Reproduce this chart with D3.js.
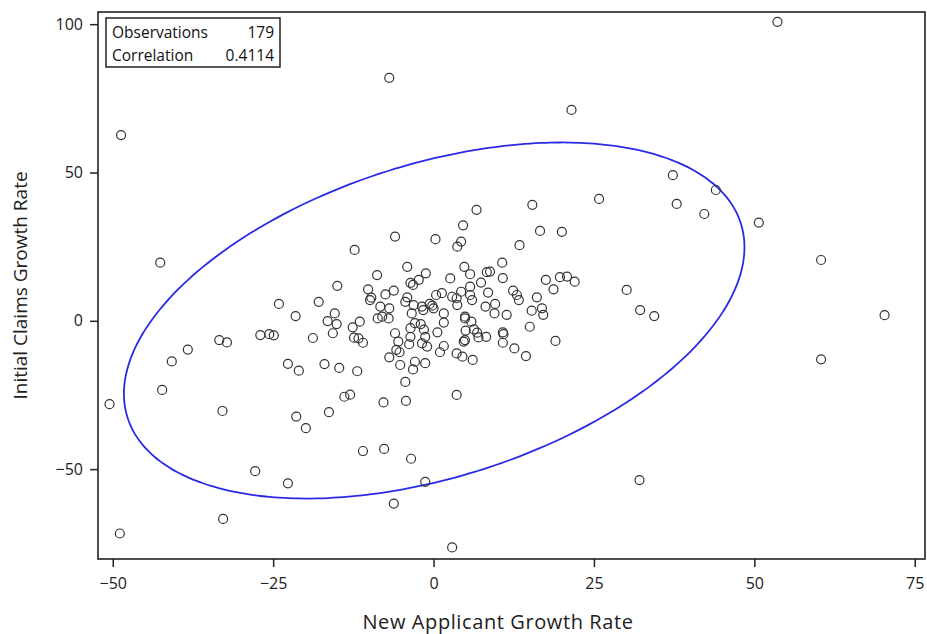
<!DOCTYPE html>
<html><head><meta charset="utf-8">
<script src="https://cdn.jsdelivr.net/npm/d3@7"></script>
<style>body{margin:0;background:#fff}svg{display:block}</style>
</head><body>
<script>
const xVals = [53.6,-6.9,-48.7,21.5,37.3,44.0,37.9,42.2,25.8,50.7,30.1,32.2,34.4,60.4,70.3,60.4,32.1,-50.5,-32.9,-21.4,-19.9,-27.8,-22.7,-32.8,-48.9,-42.6,-33.4,-32.2,-38.3,-40.8,-42.3,-11.0,-7.7,-3.5,-1.3,-6.2,2.9,
 -24.1,-17.9,-21.5,-15.4,-16.5,-15.1,-15.7,-12.6,-11.5,-12.4,-11.7,-11.0,-27.0,-25.6,-24.9,-18.8,-22.7,-21.0,-17.0,-14.7,-11.9,-13.9,-13.0,-16.3,-7.8,-4.3,-4.4,-6.9,-5.2,-3.2,-2.9,-1.3,-5.8,-5.3,-6.0,-3.8,-3.6,-1.8,-1.3,-1.0,-3.6,-2.9,-2.0,-3.4,-3.1,-1.8,-4.4,-8.3,-6.9,-8.7,-8.0,-7.0,-9.9,
 -6.0,-12.3,-8.8,-4.1,-1.2,-15.0,-10.2,-9.7,-7.5,-6.2,-3.6,-3.2,-2.3,-4.1,-1.6,-0.6,
 6.7,15.4,4.6,16.6,20.0,0.3,4.3,3.7,13.4,4.8,5.7,10.7,8.3,8.8,2.6,10.8,7.4,5.7,17.5,19.7,20.8,22.0,18.7,0.4,1.3,2.9,3.6,4.3,5.7,6.0,12.4,13.0,13.3,16.1,-0.2,1.6,3.7,4.9,8.1,9.6,9.5,11.4,15.3,16.9,17.1,
 1.6,4.9,5.9,6.3,6.8,7.0,8.2,5.0,4.7,4.9,10.8,10.9,10.8,12.6,14.4,15.0,19.0,0.6,1.6,1.0,3.6,4.5,6.1,3.6,0.0,-1.5,8.5,-5.5];
const yVals = [100.8,81.9,62.6,71.1,49.1,44.1,39.4,36.0,41.1,33.1,10.4,3.6,1.6,20.5,1.9,-13.0,-53.7,-28.1,-30.4,-32.3,-36.2,-50.7,-54.8,-66.8,-71.7,19.6,-6.5,-7.3,-9.7,-13.7,-23.3,-43.9,-43.2,-46.5,-54.3,-61.6,-76.4,
 5.7,6.4,1.6,2.5,-0.1,-1.1,-4.2,-2.2,-0.3,-5.7,-5.9,-7.4,-4.8,-4.5,-4.9,-5.8,-14.5,-16.8,-14.6,-15.9,-17.0,-25.6,-24.9,-30.8,-27.5,-27.0,-20.6,-12.3,-14.9,-16.4,-13.8,-14.3,-9.8,-10.6,-4.2,-7.9,-5.4,-7.6,-5.4,-8.7,-2.5,-0.8,-1.1,2.5,5.3,4.8,6.4,4.8,4.2,0.8,1.4,0.8,7.0,
 28.4,23.9,15.4,18.2,16.0,11.8,10.6,7.8,8.9,10.2,12.8,12.1,13.8,7.9,3.6,5.7,
 37.4,39.1,32.2,30.3,30.0,27.5,26.7,25.0,25.5,18.2,15.7,19.6,16.4,16.6,14.3,14.4,12.9,11.5,13.8,14.7,14.9,13.2,10.6,8.7,9.3,8.1,7.6,9.8,8.7,7.0,10.2,8.7,7.0,7.9,5.1,2.5,5.3,1.4,4.8,5.7,2.5,2.0,3.4,4.2,2.0,
 -0.6,0.8,-0.3,-2.9,-4.0,-5.6,-5.4,-3.3,-7.0,-6.5,-3.9,-4.5,-7.4,-9.3,-11.9,-2.0,-6.8,-3.9,-8.5,-10.6,-11.0,-12.1,-13.2,-25.0,4.2,-3.0,9.5,-7.0];
const xTicks = [-50,-25,0,25,50,75];
const yTicks = [-50,0,50,100];
const xTitle = "New Applicant Growth Rate";
const yTitle = "Initial Claims Growth Rate";
const statLabels = ["Observations","Correlation"];
const statValues = ["179","0.4114"];
// prediction ellipse parameters (mean, sd, correlation, scale)
const ellMean = [0.1, 0.1];
const ellSd = [19.5, 24.2];
const ellCorr = 0.4114;
const ellScale = 2.48;

const W=927,H=634;
const m={l:98,r:2,t:12,b:75};
const svg=d3.select("body").append("svg").attr("width",W).attr("height",H);
const x=d3.scaleLinear().domain([-52.3,76.6]).range([m.l,W-m.r]);
const y=d3.scaleLinear().domain([-80.3,104.1]).range([H-m.b,m.t]);
const font="'Open Sans', 'Noto Sans', sans-serif";

const xa=svg.append("g").attr("transform",`translate(0,${H-m.b})`)
 .call(d3.axisBottom(x).tickValues(xTicks).tickSize(8).tickPadding(11).tickFormat(d3.format("d")));
const ya=svg.append("g").attr("transform",`translate(${m.l},0)`)
 .call(d3.axisLeft(y).tickValues(yTicks).tickSize(8).tickPadding(7).tickFormat(d3.format("d")));
[xa,ya].forEach(a=>{a.select(".domain").remove();
 a.selectAll("line").attr("stroke","#222").attr("stroke-width",1.5);
 a.selectAll("text").attr("fill","#222").style("font-family",font).style("font-size","16px");});

// ellipse
const ts=d3.range(0,361,2).map(d=>d*Math.PI/180);
const pts=ts.map(t=>{const u=Math.cos(t),v=Math.sin(t);
 return [ellMean[0]+ellScale*ellSd[0]*u, ellMean[1]+ellScale*ellSd[1]*(ellCorr*u+Math.sqrt(1-ellCorr*ellCorr)*v)];});
svg.append("path").attr("d",d3.line().x(d=>x(d[0])).y(d=>y(d[1])).curve(d3.curveCardinalClosed)(pts))
 .attr("fill","none").attr("stroke","#2a2ae6").attr("stroke-width",1.8);

svg.append("g").selectAll("circle").data(xVals.map((v,i)=>[v,yVals[i]])).join("circle")
 .attr("cx",d=>x(d[0])).attr("cy",d=>y(d[1])).attr("r",4.5)
 .attr("fill","none").attr("stroke","#333").attr("stroke-width",1.2);

// frame
svg.append("rect").attr("x",m.l).attr("y",m.t).attr("width",W-m.r-m.l).attr("height",H-m.b-m.t)
 .attr("fill","none").attr("stroke","#222").attr("stroke-width",1.6);

// stats box
const bx=106,by=18,bw=174,bh=49;
svg.append("rect").attr("x",bx).attr("y",by).attr("width",bw).attr("height",bh).attr("fill","#fff").attr("stroke","#222").attr("stroke-width",1.5);
statLabels.forEach((s,i)=>{
 svg.append("text").attr("x",bx+6).attr("y",by+20+i*23).text(s).attr("fill","#111").style("font-family",font).style("font-size","15.5px");
 svg.append("text").attr("x",bx+bw-6).attr("y",by+20+i*23).attr("text-anchor","end").text(statValues[i]).attr("fill","#111").style("font-family",font).style("font-size","15.5px");
});

svg.append("text").attr("x",498).attr("y",629).attr("text-anchor","middle").text(xTitle)
 .attr("fill","#222").style("font-family",font).style("font-size","20px").style("letter-spacing","0.6px");
svg.append("text").attr("transform",`translate(27,${(m.t+H-m.b)/2}) rotate(-90)`).attr("text-anchor","middle").text(yTitle)
 .attr("fill","#222").style("font-family",font).style("font-size","19px");
</script>
</body></html>
